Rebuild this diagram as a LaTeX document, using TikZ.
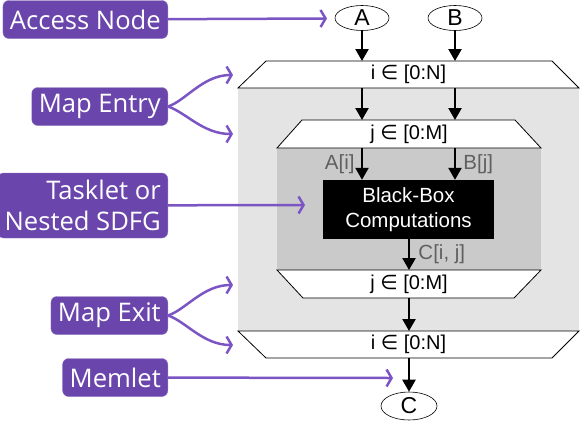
\documentclass[tikz,border=0pt]{standalone}
\usepackage{fontspec}
\setmainfont{Liberation Sans}
\newfontfamily\tagfont{Open Sans}
\newfontfamily\symfnt{DejaVu Sans}
\usepackage{xcolor}
\usetikzlibrary{positioning}
\usetikzlibrary{arrows.meta,shapes.geometric}
\definecolor{purp}{HTML}{6A46AC}
\definecolor{purpline}{HTML}{7B55C4}
\definecolor{outergray}{HTML}{E4E4E4}
\definecolor{innergray}{HTML}{CACACA}
\definecolor{memgray}{HTML}{606060}
\newcommand{\elem}{{\symfnt ∈}}

\begin{document}
\begin{tikzpicture}[x=1pt,y=1pt,
  tag/.style={fill=purp,draw=purp!75!white,rounded corners=6pt,text=white,
    font=\tagfont\fontsize{25.6}{31}\selectfont,anchor=east,inner xsep=7pt,
    inner ysep=0pt,minimum height=38pt,align=right},
  data/.style={ellipse,draw,semithick,inner sep=0pt,minimum width=54pt,
    minimum height=25pt,font=\fontsize{23}{23}\selectfont},
  mapbox/.style={draw,fill=white,line width=0.8pt},
  maplabel/.style={inner sep=0pt,outer sep=0pt,minimum width=200pt,
    font=\fontsize{20}{20}\selectfont},
  flow/.style={line width=2.3pt,-{Triangle[length=12pt,width=13pt]}},
  hint/.style={line width=2.5pt,draw=purpline,
    -{Straight Barb[length=5pt,width=17pt,line width=2.5pt]}},
  sub/.style={text=memgray,font=\fontsize{20.5}{20.5}\selectfont}]
  \useasboundingbox (0,0) rectangle (580,-421);
  \fill[outergray] (238,-88) rectangle (579,-331);
  \fill[innergray] (277,-148) rectangle (541,-270);
  \draw[mapbox] (238,-88) -- (266,-61) -- (552,-61) -- (579,-88) -- cycle;
  \draw[mapbox] (277,-148) -- (302,-120) -- (515,-120) -- (541,-148) -- cycle;
  \draw[mapbox] (277,-270) -- (303,-298) -- (514,-298) -- (541,-270) -- cycle;
  \draw[mapbox] (238,-331) -- (266,-358) -- (552,-358) -- (579,-331) -- cycle;

  \node[data] (A) at (362,-18) {A};
  \node[data] (B) at (455,-18) {B};
  \node[maplabel,minimum height=27pt] (oent) at (408.5,-74.5) {i \elem{} [0:N]};
  \node[maplabel,minimum height=28pt] (ient) at (409,-134) {j \elem{} [0:M]};
  \node[fill=black,text=white,align=center,minimum width=171pt,minimum height=59pt,
    font=\fontsize{20.5}{25}\selectfont] (task) at (408.5,-209.5) {Black-Box\\Computations};
  \node[maplabel,minimum height=28pt] (iexit) at (409,-284) {j \elem{} [0:M]};
  \node[maplabel,minimum height=27pt] (oexit) at (408.5,-344.5) {i \elem{} [0:N]};
  \node[data,minimum width=56pt,minimum height=28pt] (C) at (409,-406) {C};

  \draw[flow] (A) -- (A |- oent.north);
  \draw[flow] (B) -- (B |- oent.north);
  \draw[flow] (A |- oent.south) -- (A |- ient.north);
  \draw[flow] (B |- oent.south) -- (B |- ient.north);
  \draw[flow] (A |- ient.south) -- node[sub,left=3pt] {A[i]} (A |- task.north);
  \draw[flow] (B |- ient.south) -- node[sub,right=4pt] {B[j]} (B |- task.north);
  \draw[flow] (task.south -| C) -- node[sub,right=5pt] {C[i, j]} (iexit.north -| C);
  \draw[flow] (iexit.south -| C) -- (oexit.north -| C);
  \draw[flow] (oexit.south -| C) -- (C);

  \node[tag] (acc) at (168,-19.5) {Access Node};
  \node[tag] (ment) at (168,-106.5) {Map Entry};
  \node[tag,minimum height=65pt] (tlet) at (168,-205.5) {Tasklet or\\Nested SDFG};
  \node[tag] (mexit) at (168,-315.5) {Map Exit};
  \node[tag] (mem) at (168,-377.5) {Memlet};

  \coordinate (acctip) at (327,-18.5);
  \coordinate (mentup) at (233,-75);
  \coordinate (mentlo) at (233,-134);
  \coordinate (tlettip) at (305,-205);
  \coordinate (mexitup) at (233,-285);
  \coordinate (mexitlo) at (233,-345);
  \coordinate (memtip) at (393,-378);

  \draw[hint] (acc) -- (acctip);
  \draw[hint] (ment.east) .. controls +(18,6) and +(-30,0) .. (mentup);
  \draw[hint] (ment.east) .. controls +(18,-6) and +(-30,0) .. (mentlo);
  \draw[hint] (tlet) -- (tlettip);
  \draw[hint] (mexit.east) .. controls +(18,6) and +(-30,0) .. (mexitup);
  \draw[hint] (mexit.east) .. controls +(18,-6) and +(-30,0) .. (mexitlo);
  \draw[hint] (mem) -- (memtip);
\end{tikzpicture}
\end{document}
